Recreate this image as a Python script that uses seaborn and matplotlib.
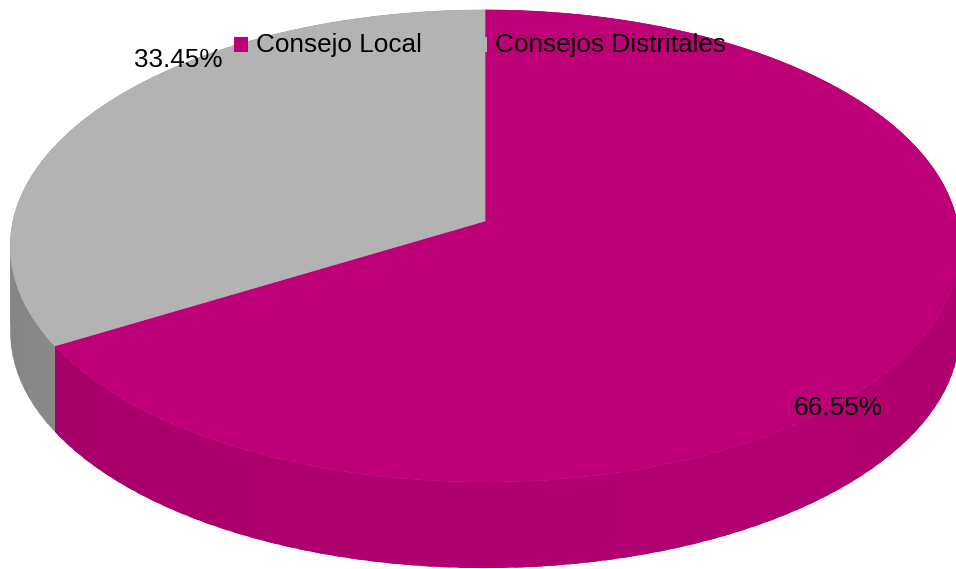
import numpy as np
import matplotlib
matplotlib.use("Agg")
import matplotlib.pyplot as plt
import seaborn as sns
from matplotlib.patches import Polygon, Rectangle

# ---- data ----
categories = ["Consejo Local", "Consejos Distritales"]
values = [66.55, 33.45]
pct_labels = ["66.55%", "33.45%"]

sns.set_theme(style="white")
plt.rcParams['font.family'] = ['Liberation Sans', 'DejaVu Sans']

top_colors = ["#BD0077", "#B3B3B3"]
side_colors = ["#B10070", "#939393"]

W, H = 956, 569
fig = plt.figure(figsize=(W / 100, H / 100), dpi=100)
ax = fig.add_axes([0, 0, 1, 1])
ax.set_xlim(0, W)
ax.set_ylim(H, 0)
ax.axis('off')

# perspective projection of the pie plane
X0, Y0, A, B, K, D = 485, 221, 472, 233.4, 0.106, 86


def proj(theta_deg, r=1.0):
    t = np.radians(theta_deg)
    X = r * np.cos(t)
    Yd = -r * np.sin(t)
    w = 1 - K * Yd
    return X0 + A * X / w, Y0 + B * Yd / w


def shade(rgb, theta):
    f = 0.93 + 0.07 * np.cos(np.radians(theta - 300))
    return tuple(np.clip(np.array(rgb) * f, 0, 1))


# wedge angles: start at top, clockwise
total = sum(values)
bounds = []
start = 90.0
for v in values:
    end = start - 360.0 * v / total
    bounds.append((start, end))
    start = end

# side faces (drawn back to front, slightly overlapping, no edges)
quads = []
for i, (a0, a1) in enumerate(bounds):
    n = int(abs(a1 - a0) / 2) + 2
    ts = np.linspace(a0, a1, n)
    step = (a1 - a0) / (n - 1)
    base = matplotlib.colors.to_rgb(side_colors[i])
    for t1, t2 in zip(ts[:-1], ts[1:]):
        t2e = t2 + 0.6 * step if t2 != ts[-1] else t2
        arc = np.linspace(t1, t2e, 6)
        upper = [proj(t) for t in arc]
        lower = [(x, y + D) for x, y in upper[::-1]]
        mid = (t1 + t2) / 2
        depth = -np.sin(np.radians(mid))
        col = shade(base, mid % 360)
        quads.append((depth, upper + lower, col))
quads.sort(key=lambda q: q[0])
for _, pts, col in quads:
    ax.add_patch(Polygon(pts, closed=True, facecolor=col, edgecolor='none',
                         linewidth=0, antialiased=True))

# top faces
for i, (a0, a1) in enumerate(bounds):
    ts = np.linspace(a0, a1, 400)
    pts = [proj(0, 0)] + [proj(t) for t in ts]
    ax.add_patch(Polygon(pts, closed=True, facecolor=top_colors[i],
                         edgecolor=top_colors[i], linewidth=0.5))

# percentage labels
label_pos = [(838, 408), (178, 60)]
for (lx, ly), txt in zip(label_pos, pct_labels):
    ax.text(lx, ly, txt, fontsize=18.8, ha='center', va='center', color='black')

# legend
leg_x = [234, 473]
for i, (cat, lx) in enumerate(zip(categories, leg_x)):
    ax.add_patch(Rectangle((lx, 37), 14, 15, facecolor=top_colors[i],
                           edgecolor='none'))
    ax.text(lx + 22, 45, cat, fontsize=18.8, ha='left', va='center', color='black')

fig.savefig("out.png", dpi=100)
